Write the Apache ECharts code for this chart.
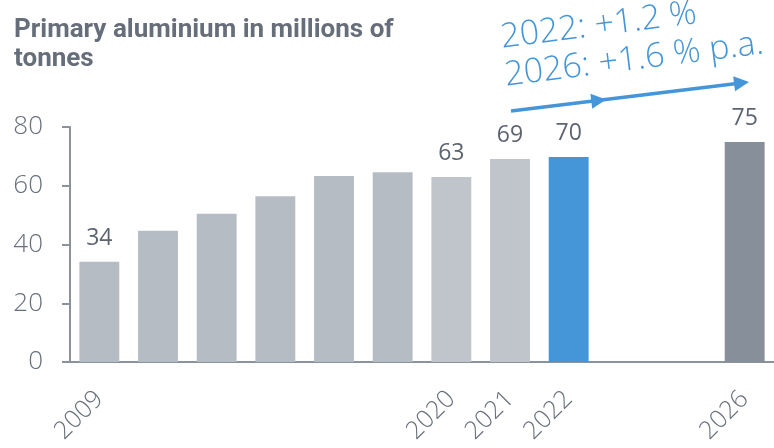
<!DOCTYPE html>
<html>
<head>
<meta charset="utf-8">
<script src="https://cdn.jsdelivr.net/npm/echarts@6/dist/echarts.min.js"></script>
<style>
  html, body { margin: 0; padding: 0; background: #ffffff; }
  #chart { width: 774px; height: 448px; }
</style>
</head>
<body>
<div id="chart"></div>
<script>
// Primary aluminium output, millions of tonnes
const categories = ['2009', '', '', '', '', '', '2020', '2021', '2022', '', '', '2026'];
const production = [34.1, 44.7, 50.5, 56.4, 63.3, 64.6, 63.0, 69.1, 69.8, null, null, 74.9];
const valueLabels = ['34', '', '', '', '', '', '63', '69', '70', '', '', '75'];
const yTicks = [0, 20, 40, 60, 80];
const growthNotes = ['2022: +1.2 %', '2026: +1.6 % p.a.'];

const GREY = '#b6bcc4';
const GREY_LIGHT = '#c0c4cb';
const BLUE = '#4596d8';
const GREY_DARK = '#878f9a';
const TEXT = '#68707c';

function barColor(i) {
  if (categories[i] === '2026') return GREY_DARK;
  if (categories[i] === '2022') return BLUE;
  if (categories[i] === '2020' || categories[i] === '2021') return GREY_LIGHT;
  return GREY;
}

// Trend arrow: one line with a head part-way along and one at the end
function trendArrow() {
  const start = [511, 111];
  const end = [749, 82];
  const mid = 0.4;
  const dx = end[0] - start[0], dy = end[1] - start[1];
  const len = Math.hypot(dx, dy);
  const ux = dx / len, uy = dy / len;
  const nx = -uy, ny = ux;
  const headLen = 15, headHalf = 7.5;
  function head(tip) {
    const bx = tip[0] - ux * headLen, by = tip[1] - uy * headLen;
    return {
      type: 'polygon',
      shape: { points: [tip, [bx + nx * headHalf, by + ny * headHalf], [bx - nx * headHalf, by - ny * headHalf]] },
      style: { fill: BLUE }
    };
  }
  const midTip = [start[0] + dx * mid, start[1] + dy * mid];
  const lineEnd = [end[0] - ux * 8, end[1] - uy * 8];
  return [
    { type: 'polyline', shape: { points: [start, lineEnd] }, style: { stroke: BLUE, lineWidth: 3.5, fill: null } },
    head(midTip),
    head(end)
  ];
}

const annotationAngle = 0.125;
const noteStyle = { fill: BLUE, fontFamily: 'Open Sans', fontWeight: 300, fontSize: 34, align: 'left', verticalAlign: 'bottom' };

const chart = echarts.init(document.getElementById('chart'), null, { renderer: 'canvas' });

chart.setOption({
  animation: false,
  title: {
    text: 'Primary aluminium in millions of\ntonnes',
    left: 9,
    top: 11,
    textStyle: {
      fontFamily: 'Roboto',
      fontWeight: 'bold',
      fontSize: 26,
      lineHeight: 29,
      color: '#666e7a'
    }
  },
  grid: { left: 70, right: 0, top: 127, bottom: 86, containLabel: false },
  xAxis: {
    type: 'category',
    data: categories,
    axisLine: { lineStyle: { color: '#8a929c', width: 2 } },
    axisTick: { show: false },
    axisLabel: {
      interval: 0,
      rotate: 45,
      margin: 33,
      fontFamily: 'Open Sans',
      fontWeight: 300,
      fontSize: 25,
      color: TEXT
    }
  },
  yAxis: {
    type: 'value',
    min: yTicks[0],
    max: yTicks[yTicks.length - 1],
    interval: 20,
    splitLine: { show: false },
    axisLine: { show: true, lineStyle: { color: '#8a929c', width: 2 } },
    axisTick: { show: true, length: 8, lineStyle: { color: '#8a929c', width: 2 } },
    axisLabel: {
      margin: 27,
      fontFamily: 'Open Sans',
      fontWeight: 300,
      fontSize: 26,
      color: TEXT
    }
  },
  series: [{
    type: 'bar',
    data: production.map((v, i) => ({
      value: v,
      itemStyle: { color: barColor(i) },
      label: { show: valueLabels[i] !== '' }
    })),
    barCategoryGap: '32%',
    label: {
      position: 'top',
      distance: 12,
      fontFamily: 'Open Sans',
      fontSize: 23,
      color: '#5c6470',
      formatter: p => valueLabels[p.dataIndex]
    }
  }],
  graphic: [
    { type: 'text', x: 503, y: 55, rotation: annotationAngle, style: Object.assign({ text: growthNotes[0] }, noteStyle) },
    { type: 'text', x: 507, y: 93, rotation: annotationAngle, style: Object.assign({ text: growthNotes[1] }, noteStyle) }
  ].concat(trendArrow())
});
</script>
</body>
</html>
